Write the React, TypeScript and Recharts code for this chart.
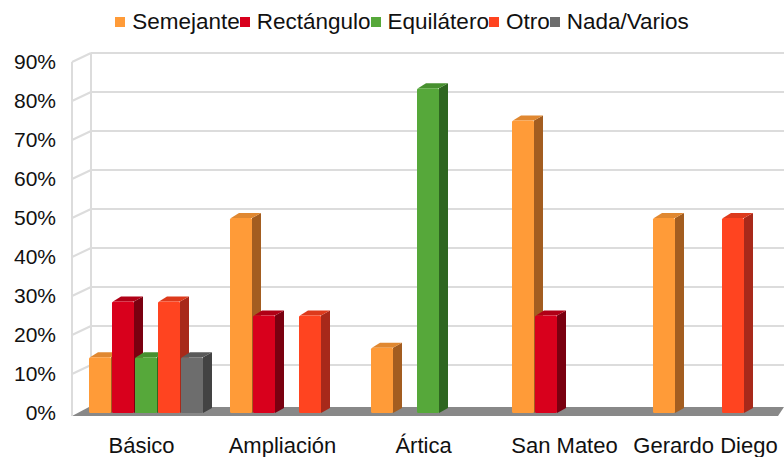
import React from 'react';
import { BarChart, Bar, XAxis, YAxis, CartesianGrid } from 'recharts';

const categories = ['Básico', 'Ampliación', 'Ártica', 'San Mateo', 'Gerardo Diego'];
const semejante = [14.3, 50, 16.7, 75, 50];
const rectangulo = [28.6, 25, 0, 25, 0];
const equilatero = [14.3, 0, 83.3, 0, 0];
const otro = [28.6, 25, 0, 0, 50];
const nada = [14.3, 0, 0, 0, 0];
const yTicks = [0, 10, 20, 30, 40, 50, 60, 70, 80, 90];

const series = [
  { key: 'semejante', name: 'Semejante', front: '#FF9B38', side: '#A35D20', top: '#E08831' },
  { key: 'rectangulo', name: 'Rectángulo', front: '#D8001C', side: '#7A0010', top: '#B00016' },
  { key: 'equilatero', name: 'Equilátero', front: '#56A83A', side: '#2E6620', top: '#47902F' },
  { key: 'otro', name: 'Otro', front: '#FF4420', side: '#A8291A', top: '#DD3A1C' },
  { key: 'nada', name: 'Nada/Varios', front: '#6D6D6D', side: '#434343', top: '#5A5A5A' },
];

const data = categories.map((category, i) => ({
  category,
  semejante: semejante[i],
  rectangulo: rectangulo[i],
  equilatero: equilatero[i],
  otro: otro[i],
  nada: nada[i],
}));

// 3D depth of the bars and of the walls
const DX = 9;
const DY = 5;
const WALL_DX = 19;
const WALL_DY = 9;

const Bar3D = (props: any) => {
  const { x, y, width, height, s } = props;
  if (!height || height <= 0) return null;
  const w = width - 1;
  const b = y + height;
  return (
    <g>
      <polygon points={`${x + w},${y} ${x + w + DX},${y - DY} ${x + w + DX},${b - DY} ${x + w},${b}`} fill={s.side} />
      <polygon points={`${x + 1},${y} ${x + DX},${y - DY} ${x + w + DX},${y - DY} ${x + w},${y}`} fill={s.top} />
      <rect x={x} y={y} width={w} height={height} fill={s.front} rx={1.5} />
    </g>
  );
};

const GridLine = (props: any) => {
  const { x1, x2, y1, y, height } = props;
  const left = x1 - 4;
  const back = left + WALL_DX;
  const right = x2 + 3;
  const isFloor = height != null && Math.abs(y1 - (y + height)) < 1;
  const isTop = y != null && Math.abs(y1 - y) < 1;
  if (isFloor) {
    return (
      <g>
        <polygon
          points={`${left},${y1 + 3} ${back - 2},${y1 - 6} ${right},${y1 - 6} ${right - 6},${y1 + 3}`}
          fill="#888888"
        />
      </g>
    );
  }
  return (
    <g>
      <line x1={left} y1={y1} x2={back} y2={y1 - WALL_DY} stroke="#DCDCDC" strokeWidth={2} />
      <line x1={back} y1={y1 - WALL_DY} x2={right} y2={y1 - WALL_DY} stroke="#DCDCDC" strokeWidth={2} />
      {isTop && (
        <>
          <line x1={left} y1={y1} x2={left} y2={y + height + 3} stroke="#DCDCDC" strokeWidth={2} />
          <line x1={back} y1={y1 - WALL_DY} x2={back} y2={y + height - WALL_DY + 3} stroke="#DCDCDC" strokeWidth={2} />
        </>
      )}
    </g>
  );
};

const XTick = (props: any) => {
  const { x, payload } = props;
  return (
    <text x={x - 5} y={453} textAnchor="middle" fontSize={22} fill="#111" fontFamily="'Liberation Sans', Arial, sans-serif">
      {payload.value}
    </text>
  );
};

const YTick = (props: any) => {
  const { y, payload } = props;
  return (
    <text x={56} y={y + 7} textAnchor="end" fontSize={21} fill="#111" fontFamily="'Liberation Sans', Arial, sans-serif">
      {`${payload.value}%`}
    </text>
  );
};

export default function App() {
  return (
    <div style={{ position: 'absolute', left: 0, top: 0, width: 784, height: 457, background: '#fff' }}>
      <div
        style={{
          position: 'absolute',
          top: 8,
          left: 0,
          width: 784,
          display: 'flex',
          justifyContent: 'center',
          paddingLeft: 20,
          boxSizing: 'border-box',
          fontFamily: "'Liberation Sans', Arial, sans-serif",
          fontSize: 22.5,
          color: '#111',
          lineHeight: '28px',
        }}
      >
        {series.map((s) => (
          <div key={s.key} style={{ display: 'flex', alignItems: 'center' }}>
            <span style={{ display: 'inline-block', width: 10, height: 10, background: s.front, marginRight: 7 }} />
            <span>{s.name}</span>
          </div>
        ))}
      </div>
      <BarChart
        width={784}
        height={457}
        data={data}
        margin={{ top: 62, right: 3, bottom: 0, left: 0 }}
        barCategoryGap={13}
        barGap={0}
      >
        <CartesianGrid vertical={false} horizontal={(p: any) => <GridLine key={p.key} {...p} />} />
        <XAxis dataKey="category" height={44} axisLine={false} tickLine={false} tick={<XTick />} interval={0} />
        <YAxis
          width={76}
          domain={[0, 90]}
          ticks={yTicks}
          axisLine={false}
          tickLine={false}
          tick={<YTick />}
          interval={0}
        />
        {series.map((s) => (
          <Bar
            key={s.key}
            dataKey={s.key}
            name={s.name}
            isAnimationActive={false}
            shape={(p: any) => <Bar3D {...p} s={s} />}
          />
        ))}
      </BarChart>
    </div>
  );
}
